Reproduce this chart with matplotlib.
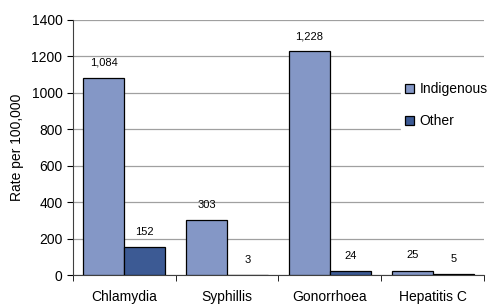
import numpy as np
import matplotlib.pyplot as plt

categories = ["Chlamydia", "Syphillis", "Gonorrhoea", "Hepatitis C"]
indigenous = [1084, 303, 1228, 25]
other = [152, 3, 24, 5]
series_names = ["Indigenous", "Other"]

plt.rcParams["font.family"] = ["Liberation Sans", "DejaVu Sans"]

fig = plt.figure(figsize=(4.92, 3.07), dpi=100)
ax = fig.add_axes([0.148, 0.104, 0.836, 0.831])

x = np.arange(len(categories))
w = 0.4
b1 = ax.bar(x - w / 2, indigenous, w, color="#8497c6", edgecolor="black", linewidth=0.9,
            label=series_names[0], zorder=3)
b2 = ax.bar(x + w / 2, other, w, color="#3c5a94", edgecolor="black", linewidth=0.9,
            label=series_names[1], zorder=3)

for bars, vals in ((b1, indigenous), (b2, other)):
    for rect, v in zip(bars, vals):
        ax.text(rect.get_x() + rect.get_width() / 2, v + 55, f"{v:,}",
                ha="center", va="bottom", fontsize=8, zorder=4)

ax.set_xlim(-0.5, len(categories) - 0.5)
ax.set_ylim(0, 1400)
ax.set_yticks(np.arange(0, 1401, 200))
ax.set_xticks(x)
ax.set_xticklabels(categories, fontsize=10)
ax.set_xticks(np.arange(-0.5, len(categories), 1), minor=True)
ax.tick_params(axis="x", which="major", length=0, pad=11)
ax.tick_params(axis="x", which="minor", length=4, direction="out")
ax.tick_params(axis="y", labelsize=10, length=4, direction="out")
ax.yaxis.grid(True, color="#a0a0a0", linewidth=0.9, zorder=0)
ax.set_axisbelow(True)
for s in ("top", "right"):
    ax.spines[s].set_visible(False)
ax.spines["left"].set_color("#404040")
ax.spines["bottom"].set_color("#404040")
ax.set_ylabel("Rate per 100,000", fontsize=10, labelpad=5)

leg = ax.legend(loc="center left", bbox_to_anchor=(0.79, 0.665), frameon=True, fontsize=10,
                handlelength=0.7, handleheight=0.7, handletextpad=0.35, labelspacing=1.3,
                borderpad=0.3, borderaxespad=0.2, fancybox=False)
leg.get_frame().set_edgecolor("white")
leg.get_frame().set_facecolor("white")
leg.get_frame().set_alpha(1)
leg.set_zorder(5)

fig.savefig("out.png", dpi=100)
